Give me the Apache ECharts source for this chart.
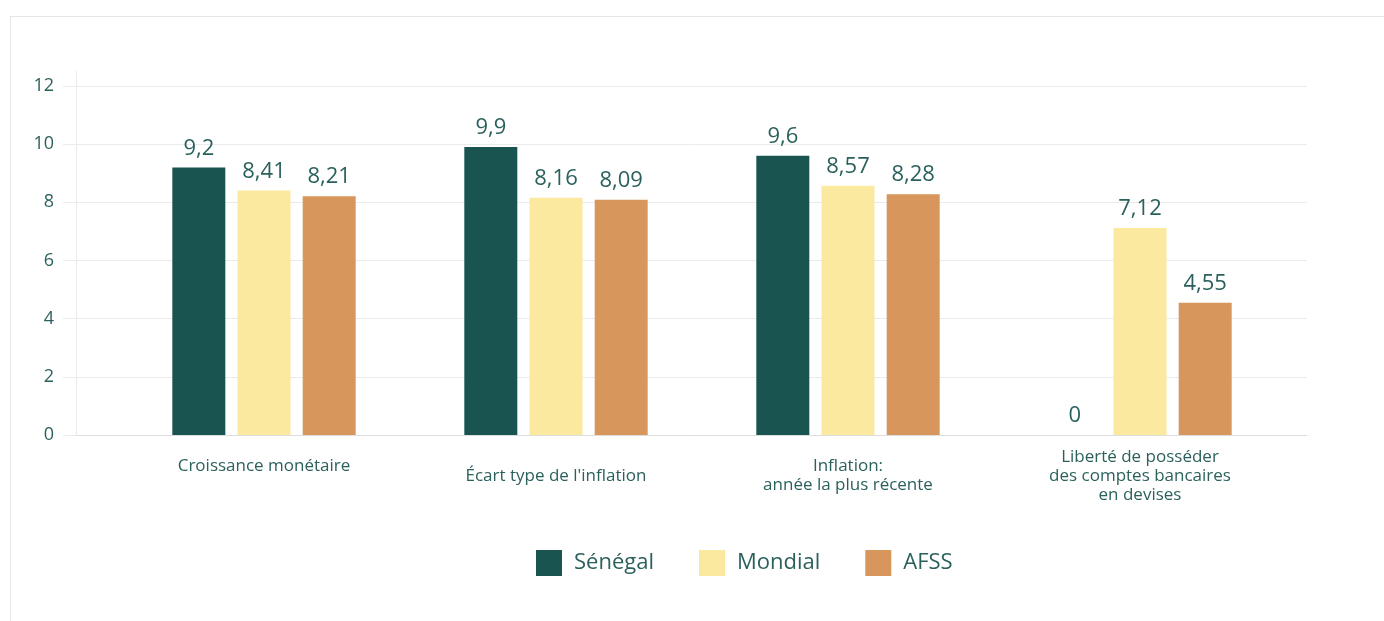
<!DOCTYPE html>
<html>
<head>
<meta charset="utf-8">
<script src="https://cdn.jsdelivr.net/npm/echarts@6/dist/echarts.min.js"></script>
<style>
  html, body { margin: 0; padding: 0; width: 1384px; height: 621px; overflow: hidden; background: #fff; }
  #card { position: absolute; left: 10px; top: 16px; width: 1500px; height: 800px; border: 1px solid #e6e6e6; box-sizing: border-box; }
  #chart { position: absolute; left: 0; top: 0; width: 1384px; height: 621px; }
</style>
</head>
<body>
<div id="card"></div>
<div id="chart"></div>
<script>
const categories = [
  "Croissance monétaire\n ",
  "Écart type de l'inflation",
  "Inflation:\nannée la plus récente",
  "Liberté de posséder\ndes comptes bancaires\nen devises"
];
const seriesNames = ["Sénégal", "Mondial", "AFSS"];
const senegal = [9.2, 9.9, 9.6, 0];
const mondial = [8.41, 8.16, 8.57, 7.12];
const afss = [8.21, 8.09, 8.28, 4.55];
const yTicks = { min: 0, max: 12, interval: 2 };
const colors = ["#195450", "#fbe9a0", "#d6965c"];

const FONT = "Open Sans";
const TXT = "#2b615c";

const chart = echarts.init(document.getElementById('chart'), null, { renderer: 'canvas' });

function fmt(v) { return String(v).replace('.', ','); }

const valueSets = [senegal, mondial, afss];
const series = seriesNames.map((name, i) => ({
  name: name,
  type: 'bar',
  xAxisIndex: 1,
  yAxisIndex: 1,
  data: valueSets[i],
  barWidth: 53,
  barGap: '23%',
  itemStyle: { color: colors[i] },
  label: {
    show: true,
    position: 'top',
    distance: 8,
    fontFamily: FONT,
    fontSize: 22,
    color: TXT,
    formatter: p => fmt(p.value)
  }
}));

chart.setOption({
  animation: false,
  textStyle: { fontFamily: FONT },
  grid: [
    { left: 76, right: 77, top: 86, bottom: 186 },
    { left: 118, right: 98, top: 86, bottom: 186 },
    { left: 76, right: 77, top: 71, bottom: 186 }
  ],
  legend: {
    data: seriesNames,
    left: 531,
    top: 545,
    itemWidth: 26,
    itemHeight: 26,
    itemGap: 45,
    icon: 'rect',
    textStyle: { fontFamily: FONT, fontSize: 22, color: TXT, padding: [0, 0, 0, 7] }
  },
  xAxis: [
    { gridIndex: 0, type: 'value', min: 0, max: 1,
      axisLine: { show: true, lineStyle: { color: '#dedede', width: 1 } },
      axisTick: { show: false }, axisLabel: { show: false }, splitLine: { show: false } },
    { gridIndex: 1, type: 'category', data: categories,
      axisLine: { show: false }, axisTick: { show: false }, splitLine: { show: false },
      axisLabel: { fontFamily: FONT, fontSize: 17, color: TXT, lineHeight: 19,
        verticalAlign: 'middle', margin: 41, interval: 0 } },
    { gridIndex: 2, type: 'value', min: 0, max: 1, show: false }
  ],
  yAxis: [
    { gridIndex: 0, type: 'value', min: yTicks.min, max: yTicks.max, interval: yTicks.interval,
      axisLine: { show: false },
      axisTick: { show: true, length: 13, lineStyle: { color: '#ebebeb' } },
      axisLabel: { fontFamily: FONT, fontSize: 18, color: TXT, margin: 22 },
      splitLine: { show: true, lineStyle: { color: '#ebebeb', width: 1 } } },
    { gridIndex: 1, type: 'value', min: yTicks.min, max: yTicks.max, interval: yTicks.interval, show: false },
    { gridIndex: 2, type: 'value', min: 0, max: 1,
      axisLine: { show: true, lineStyle: { color: '#ebebeb' } },
      axisTick: { show: false }, axisLabel: { show: false }, splitLine: { show: false } }
  ],
  series: series
});
</script>
</body>
</html>
